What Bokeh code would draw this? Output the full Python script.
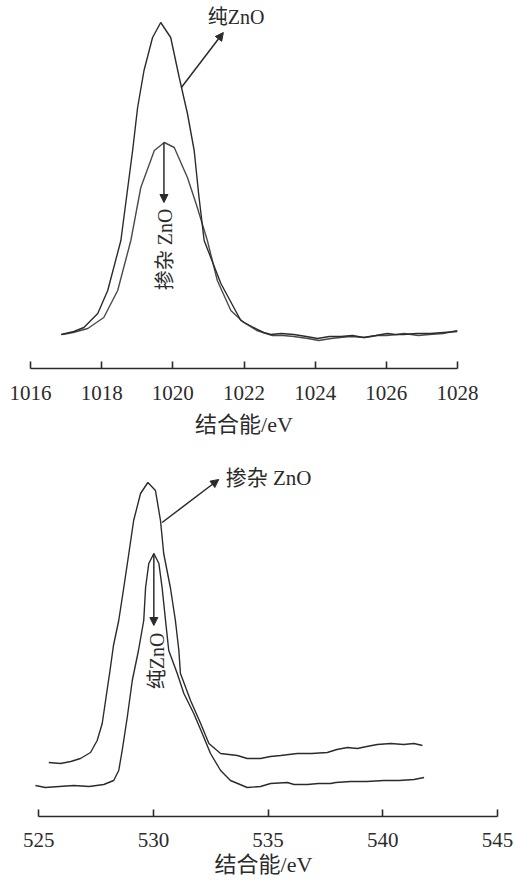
from bokeh.plotting import figure
from bokeh.models import Range1d, FixedTicker, Arrow, NormalHead
from bokeh.core.properties import value
from bokeh.embed import file_html
from bokeh.resources import INLINE

FONT = "Liberation Serif, Noto Sans CJK SC"

# ---------------- Top panel: Zn 2p ----------------
zn_pure_e = [1016.86, 1017.22, 1017.50, 1017.89, 1018.17, 1018.54, 1018.87, 1019.01, 1019.19,
             1019.43, 1019.66, 1019.94, 1020.18, 1020.41, 1020.60, 1020.73, 1020.88, 1021.35,
             1021.91, 1022.27, 1022.55, 1022.75, 1023.05, 1023.40, 1023.75, 1024.07, 1024.40,
             1024.72, 1025.05, 1025.36, 1025.70, 1026.03, 1026.25, 1026.48, 1026.85, 1027.24,
             1027.60, 1028.00]
zn_pure_i = [34, 37, 41, 55, 78, 128, 218, 261, 298,
             331, 346, 331, 291, 255, 218, 173, 128, 85,
             48, 41, 36, 34, 35, 34, 32, 30, 32,
             32, 33, 31, 33, 35, 34, 34, 35, 35,
             36, 37]

zn_dop_e = [1016.90, 1017.20, 1017.61, 1018.06, 1018.45, 1018.82, 1019.10, 1019.48, 1019.76,
            1020.04, 1020.41, 1020.67, 1020.97, 1021.25, 1021.63, 1021.99, 1022.36, 1022.80,
            1023.10, 1023.40, 1023.80, 1024.10, 1024.45, 1024.70, 1025.00, 1025.40, 1025.75,
            1026.00, 1026.30, 1026.50, 1026.90, 1027.20, 1027.60, 1028.00]
zn_dop_i = [34, 36, 40, 51, 78, 128, 181, 218, 226,
            221, 191, 163, 128, 88, 58, 46, 38, 33,
            33, 32, 30, 28, 30, 31, 32, 31, 33,
            33, 34, 35, 33, 34, 35, 38]

zn_ticks = [1016, 1018, 1020, 1022, 1024, 1026, 1028]

zn_pure_label = "纯ZnO"
zn_pure_arrow = (1020.24, 281, 1021.42, 336)
zn_pure_text_xy = (1020.98, 352)
zn_dop_label = "掺杂 ZnO"
zn_dop_arrow = (1019.75, 226, 1019.75, 166)
zn_dop_text_xy = (1019.77, 160)

# ---------------- Bottom panel: O 1s ----------------
o_dop_e = [525.44, 525.95, 526.40, 526.82, 527.26, 527.55, 527.77, 527.98, 528.11, 528.26,
           528.49, 528.71, 528.93, 529.14, 529.44, 529.76, 530.09, 530.31, 530.45, 530.74,
           530.96, 531.11, 531.18, 531.62, 532.06, 532.42, 532.93, 533.66, 534.09, 534.67,
           535.10, 535.55, 536.27, 536.90, 537.58, 538.00, 538.46, 538.89, 539.30, 539.76,
           540.35, 540.90, 541.36, 541.73]
o_dop_i = [54, 53, 55, 58, 64, 76, 93, 126, 146, 171,
           196, 229, 263, 296, 323, 334, 326, 296, 263, 229,
           196, 166, 143, 116, 93, 73, 63, 61, 58, 58,
           60, 61, 63, 63, 64, 67, 69, 68, 70, 72,
           73, 72, 73, 71]

o_pure_e = [524.86, 525.29, 525.90, 526.53, 527.20, 527.84, 528.27, 528.49, 528.64, 528.86,
            529.08, 529.35, 529.58, 529.66, 529.80, 530.02, 530.24, 530.38, 530.53, 530.67,
            531.04, 531.33, 531.76, 532.13, 532.49, 532.93, 533.36, 534.09, 534.67, 535.11,
            535.84, 536.13, 536.71, 537.20, 537.73, 537.95, 538.60, 539.30, 540.05, 540.70,
            541.36, 541.80]
o_pure_i = [31, 29, 30, 31, 30, 32, 36, 46, 66, 99,
            136, 166, 196, 229, 253, 263, 253, 229, 196, 166,
            143, 123, 103, 83, 63, 46, 36, 29, 30, 33,
            34, 32, 32, 33, 33, 34, 35, 35, 36, 36,
            37, 39]

o_ticks = [525, 530, 535, 540, 545]

o_dop_label = "掺杂 ZnO"
o_dop_arrow = (530.38, 294, 532.85, 337)
o_dop_text_xy = (533.15, 339)
o_pure_label = "纯ZnO"
o_pure_arrow = (530.02, 263, 530.02, 191)
o_pure_text_xy = (530.16, 184)

AXIS_LABEL = "结合能/eV"
INK = "#2b2b2b"


def style(p, ticks, label, standoff, label_standoff):
    p.xaxis.ticker = FixedTicker(ticks=ticks)
    p.xaxis.minor_tick_line_color = None
    p.xaxis.major_tick_in = 7
    p.xaxis.major_tick_out = 0
    p.xaxis.axis_line_width = 1.6
    p.xaxis.axis_line_color = INK
    p.xaxis.major_tick_line_width = 1.6
    p.xaxis.major_tick_line_color = INK
    p.xaxis.major_label_text_font = FONT
    p.xaxis.major_label_text_font_size = "21px"
    p.xaxis.major_label_text_color = INK
    p.xaxis.major_label_standoff = standoff
    p.xaxis.axis_label = label
    p.xaxis.axis_label_text_font = FONT
    p.xaxis.axis_label_text_font_size = "22px"
    p.xaxis.axis_label_text_font_style = "normal"
    p.xaxis.axis_label_text_color = INK
    p.xaxis.axis_label_standoff = label_standoff
    p.xgrid.visible = False
    p.ygrid.visible = False
    p.outline_line_color = None
    p.background_fill_color = "white"
    p.border_fill_color = "white"


def annotate(p, label, arrow, xy, angle, align, size):
    x0, y0, x1, y1 = arrow
    p.add_layout(Arrow(end=NormalHead(size=8, fill_color=INK, line_color=INK),
                       x_start=x0, y_start=y0, x_end=x1, y_end=y1,
                       line_width=1.5, line_color=INK))
    p.text(x=[xy[0]], y=[xy[1]], text=[label], angle=angle,
           text_font=value(FONT), text_font_size=size, text_color=INK,
           text_align=align, text_baseline="middle")


p1 = figure(width=514, height=440, output_backend="svg", toolbar_location=None,
            x_range=Range1d(1016, 1028), y_range=Range1d(0, 368),
            y_axis_location=None, min_border_left=30, min_border_right=57,
            min_border_top=0, min_border_bottom=72)
style(p1, zn_ticks, AXIS_LABEL, 17, 9)
p1.line(zn_dop_e, zn_dop_i, line_color="#4a4a4a", line_width=1.4)
p1.line(zn_pure_e, zn_pure_i, line_color=INK, line_width=1.4)
annotate(p1, zn_pure_label, zn_pure_arrow, zn_pure_text_xy, 0, "left", "20px")
annotate(p1, zn_dop_label, zn_dop_arrow, zn_dop_text_xy, 1.5708, "right", "20px")

p2 = figure(width=514, height=440, output_backend="svg", toolbar_location=None,
            x_range=Range1d(524.6, 545), y_range=Range1d(0, 376),
            y_axis_location=None, min_border_left=29, min_border_right=17,
            min_border_top=0, min_border_bottom=64)
style(p2, o_ticks, AXIS_LABEL, 16, 2)
p2.xaxis.bounds = (525, 545)
p2.line(o_dop_e, o_dop_i, line_color=INK, line_width=1.4)
p2.line(o_pure_e, o_pure_i, line_color=INK, line_width=1.4)
annotate(p2, o_dop_label, o_dop_arrow, o_dop_text_xy, 0, "left", "21px")
annotate(p2, o_pure_label, o_pure_arrow, o_pure_text_xy, 1.5708, "right", "20px")

open("out.html", "w").write(file_html([p1, p2], INLINE))
